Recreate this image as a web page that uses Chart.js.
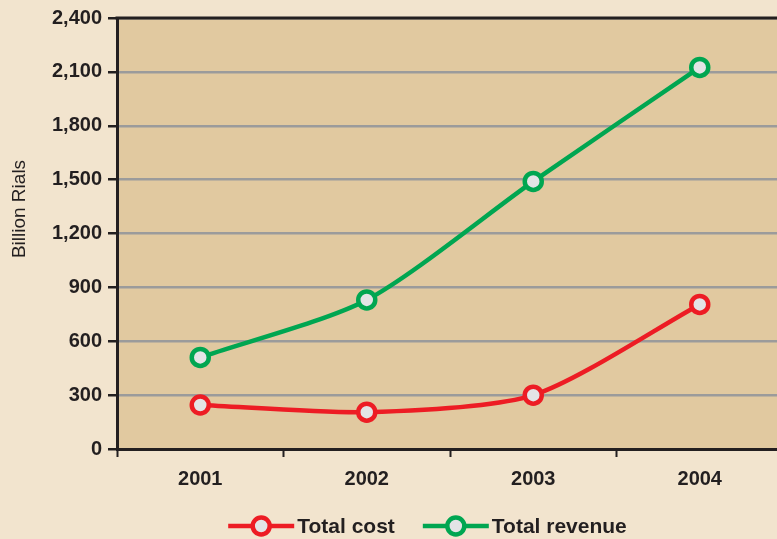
<!DOCTYPE html>
<html>
<head>
<meta charset="utf-8">
<script src="https://cdn.jsdelivr.net/npm/chart.js@4.4.1/dist/chart.umd.min.js"></script>
<style>
  html, body { margin: 0; padding: 0; background: #F2E4CE; overflow: hidden; }
  #wrap { position: absolute; left: 0; top: 0; width: 800px; height: 539px; }
</style>
</head>
<body>
<div id="wrap"><canvas id="c" width="800" height="539"></canvas></div>
<script>
// Categories and series (billion rials)
const years = ['2001', '2002', '2003', '2004'];
const totalCost = [245, 205, 300, 805];
const totalRevenue = [510, 830, 1490, 2125];
const yTickValues = [0, 300, 600, 900, 1200, 1500, 1800, 2100, 2400];
const yTitle = 'Billion Rials';

const INK = '#231F20';
const FONT = '"Liberation Sans", Arial, Helvetica, sans-serif';
const RED = '#ED1C24';
const GREEN = '#00A651';
const MARKER_FILL = '#E3E4E6';

// Plot background, top frame line, rotated axis title and line-style legend
const decor = {
  id: 'decor',
  beforeDraw(chart) {
    const { ctx, chartArea: a } = chart;
    ctx.save();
    ctx.fillStyle = '#E1C9A0';
    ctx.fillRect(a.left, a.top, a.right - a.left, a.bottom - a.top);
    ctx.restore();
  },
  afterDraw(chart) {
    const { ctx, chartArea: a } = chart;
    ctx.save();
    // top frame
    ctx.strokeStyle = INK;
    ctx.lineWidth = 3;
    ctx.beginPath();
    ctx.moveTo(a.left - 1.5, a.top);
    ctx.lineTo(a.right, a.top);
    ctx.stroke();

    // y-axis title
    ctx.fillStyle = INK;
    ctx.font = '19px ' + FONT;
    ctx.textAlign = 'center';
    ctx.textBaseline = 'middle';
    ctx.translate(20, 209);
    ctx.rotate(-Math.PI / 2);
    ctx.fillText(yTitle, 0, 0);
    ctx.restore();

    // legend: line segment with hollow marker, then label
    ctx.save();
    ctx.font = 'bold 21px ' + FONT;
    ctx.textBaseline = 'middle';
    ctx.textAlign = 'left';
    const segW = 66, gapText = 3, gapItem = 28, y = 526;
    const items = chart.data.datasets.map(ds => ({
      label: ds.label, color: ds.borderColor, w: segW + gapText + ctx.measureText(ds.label).width
    }));
    const total = items.reduce((s, it) => s + it.w, 0) + gapItem * (items.length - 1);
    let x = 427.5 - total / 2;
    items.forEach(it => {
      ctx.strokeStyle = it.color;
      ctx.lineWidth = 4.5;
      ctx.beginPath();
      ctx.moveTo(x, y);
      ctx.lineTo(x + segW, y);
      ctx.stroke();
      ctx.beginPath();
      ctx.arc(x + segW / 2, y, 8.5, 0, Math.PI * 2);
      ctx.fillStyle = MARKER_FILL;
      ctx.fill();
      ctx.lineWidth = 4.5;
      ctx.stroke();
      ctx.fillStyle = INK;
      ctx.fillText(it.label, x + segW + gapText, y + 1);
      x += it.w + gapItem;
    });
    ctx.restore();
  }
};

const seriesStyle = (color) => ({
  borderColor: color,
  backgroundColor: color,
  borderWidth: 4.5,
  pointRadius: 8.5,
  pointHoverRadius: 8.5,
  pointBorderWidth: 4.5,
  pointBackgroundColor: MARKER_FILL,
  pointBorderColor: color,
  tension: 0.25,
  fill: false
});

new Chart(document.getElementById('c'), {
  type: 'line',
  data: {
    labels: years,
    datasets: [
      Object.assign({ label: 'Total cost', data: totalCost }, seriesStyle(RED)),
      Object.assign({ label: 'Total revenue', data: totalRevenue }, seriesStyle(GREEN))
    ]
  },
  options: {
    responsive: false,
    animation: false,
    devicePixelRatio: 1,
    layout: { padding: { top: 17, right: 17, left: 0, bottom: 0 } },
    plugins: {
      legend: { display: false },
      tooltip: { enabled: false }
    },
    scales: {
      x: {
        offset: true,
        afterFit(scale) { scale.height = 90; },
        grid: {
          offset: true,
          drawOnChartArea: false,
          drawTicks: true,
          tickLength: 8,
          tickColor: INK,
          tickWidth: 2
        },
        border: { color: INK, width: 3 },
        ticks: {
          color: INK,
          padding: 10,
          font: { family: FONT, size: 20, weight: 'bold' }
        }
      },
      y: {
        min: yTickValues[0],
        max: yTickValues[yTickValues.length - 1],
        afterBuildTicks(scale) { scale.ticks = yTickValues.map(v => ({ value: v })); },
        afterFit(scale) { scale.width = 117; },
        grid: {
          color: '#9B9B9B',
          lineWidth: 2.5,
          tickLength: 9,
          tickColor: INK,
          tickWidth: 2.5
        },
        border: { color: INK, width: 3 },
        ticks: {
          color: INK,
          padding: 6,
          font: { family: FONT, size: 20, weight: 'bold' },
          callback: v => v.toLocaleString('en-US')
        }
      }
    }
  },
  plugins: [decor]
});
</script>
</body>
</html>
